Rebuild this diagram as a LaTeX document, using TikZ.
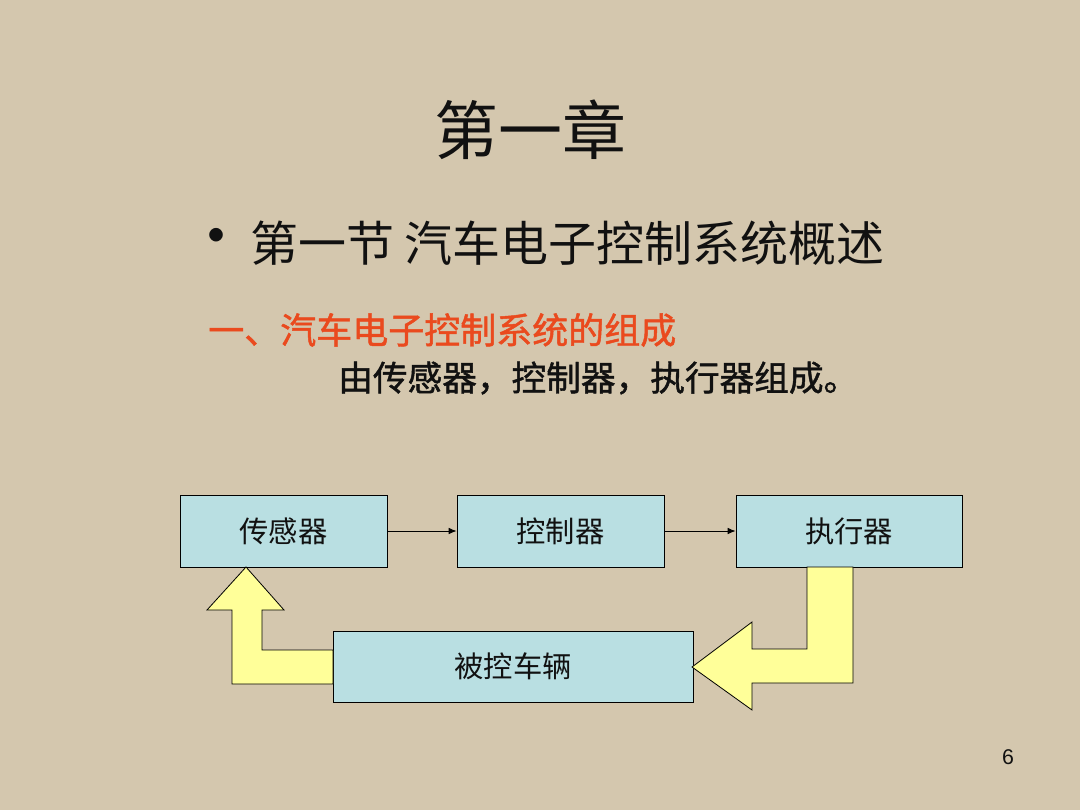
\documentclass[tikz,border=0pt]{standalone}
\usepackage{fontspec}
\setmainfont{Noto Sans CJK SC}
\newfontfamily\semibold[FakeBold=1.3]{Noto Sans CJK SC}
\newfontfamily\numfont{Liberation Sans}
\usetikzlibrary{arrows.meta}
\definecolor{PaperBeige}{HTML}{D4C7AE}
\definecolor{BoxCyan}{HTML}{B9DFE2}
\definecolor{ArrowYellow}{HTML}{FFFF99}
\definecolor{HeadRed}{HTML}{EA4A1E}
\definecolor{InkBlack}{HTML}{111111}

\begin{document}
\begin{tikzpicture}[x=0.75pt, y=-0.75pt,
  every node/.style={inner sep=0pt, text=InkBlack},
  blockbox/.style={draw=black, fill=BoxCyan, line width=0.6pt,
    minimum height=54pt, font=\fontsize{22pt}{24pt}\selectfont},
  feedback/.style={draw=black, fill=ArrowYellow, line width=0.6pt, line join=miter}]
  % page
  \fill[PaperBeige] (0,0) rectangle (1080,810);

  % headings
  \node (title) at (530,130) {\fontsize{48pt}{50pt}\selectfont 第一章};
  \node (bullet) at (216,244) {\fontsize{48pt}{50pt}\selectfont •};
  \node[anchor=west] (section) at (250,243)
    {\fontsize{36pt}{38pt}\selectfont 第一节 汽车电子控制系统概述};
  \node[anchor=west, text=HeadRed] (part) at (208,330)
    {\fontsize{27pt}{30pt}\selectfont\semibold 一、汽车电子控制系统的组成};
  \node[anchor=west] (summary) at (338,378)
    {\fontsize{26pt}{29pt}\selectfont\semibold 由传感器，控制器，执行器组成。};

  % blocks
  \node[blockbox, minimum width=155.25pt] (sensor) at (283.5,531) {传感器};
  \node[blockbox, minimum width=155.25pt] (controller) at (560.5,531) {控制器};
  \node[blockbox, minimum width=169.5pt] (actuator) at (849,531) {执行器};
  \node[blockbox, minimum width=270pt, minimum height=53.25pt] (vehicle) at (513,666.5) {被控车辆};

  \draw[-{Latex[length=6pt,width=5pt]}, line width=0.7pt] (sensor) -- (controller);
  \draw[-{Latex[length=6pt,width=5pt]}, line width=0.7pt] (controller) -- (actuator);

  % feedback arrows
  \draw[feedback] (333,650) -- (262,650) -- (262,610) -- (284,610) -- (246,567)
    -- (207,610) -- (232,610) -- (232,684) -- (333,684) -- cycle;
  \draw[feedback] (807,567) -- (853,567) -- (853,683) -- (752,683) -- (752,710)
    -- (692,667) -- (752,622) -- (752,649) -- (807,649) -- cycle;

  \node (pageno) at (1008,757) {\numfont\fontsize{16pt}{18pt}\selectfont 6};
\end{tikzpicture}
\end{document}
